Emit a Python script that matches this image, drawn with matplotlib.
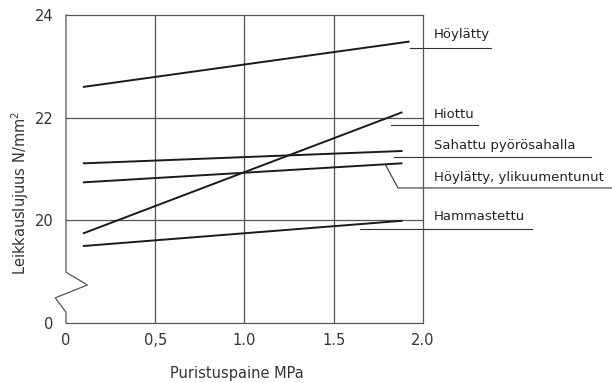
import matplotlib.pyplot as plt

# puristuspaine (MPa) alku- ja loppupisteet
x_alku = 0.1
x_loppu = [1.92, 1.88, 1.88, 1.88, 1.88]

nimet = ["Höylätty", "Hiottu", "Sahattu pyörösahalla",
         "Höylätty, ylikuumentunut", "Hammastettu"]
y_alku = [22.60, 19.75, 21.11, 20.74, 19.50]
y_loppu = [23.48, 22.10, 21.35, 21.11, 19.99]

# akselin katkon vuoksi 18 piirretään nollana
y_ticks = [18, 20, 22, 24]
y_tick_labels = ["0", "20", "22", "24"]
x_ticks = [0, 0.5, 1.0, 1.5, 2.0]
x_tick_labels = ["0", "0,5", "1.0", "1.5", "2.0"]

# nimien paikat ja viittausviivat
nimi_y = [23.61, 22.07, 21.45, 20.84, 20.08]
viivat = [
    ([1.93, 2.38], [23.36, 23.36]),
    ([1.82, 2.31], [21.86, 21.86]),
    ([1.84, 2.94], [21.23, 21.23]),
    ([1.79, 1.86, 3.06], [21.08, 20.63, 20.63]),
    ([1.65, 2.61], [19.83, 19.83]),
]

fig = plt.figure(figsize=(6.12, 3.83), dpi=100)
ax = fig.add_axes([0.1078, 0.1567, 0.5833, 0.8042])

ax.set_xlim(0, 2.0)
ax.set_ylim(18, 24)

harmaa = "#555555"
for gx in [0.5, 1.0, 1.5]:
    ax.axvline(gx, color=harmaa, lw=0.9)
for gy in [20, 22]:
    ax.axhline(gy, color=harmaa, lw=0.9)

for i in range(len(nimet)):
    ax.plot([x_alku, x_loppu[i]], [y_alku[i], y_loppu[i]], color="#1a1a1a", lw=1.4)
    vx, vy = viivat[i]
    ax.plot(vx, vy, color="#333333", lw=0.8, clip_on=False)
    ax.text(2.06, nimi_y[i], nimet[i], fontsize=9.5, color="#222222",
            va="center", ha="left", clip_on=False)

# vasen akseli katkoviivalla
ax.spines["left"].set_visible(False)
for s in ["top", "right", "bottom"]:
    ax.spines[s].set_color(harmaa)
    ax.spines[s].set_linewidth(0.9)
ax.plot([0, 0, 0.12, -0.06, 0, 0], [24, 18.99, 18.74, 18.49, 18.21, 18],
        color=harmaa, lw=0.9, clip_on=False)

ax.set_xticks(x_ticks)
ax.set_xticklabels(x_tick_labels)
ax.set_yticks(y_ticks)
ax.set_yticklabels(y_tick_labels)
ax.tick_params(length=0, labelsize=10.5, labelcolor="#333333")
ax.tick_params(axis="y", pad=9)
ax.tick_params(axis="x", pad=7)

fig.text(0.387, 0.026, "Puristuspaine MPa", fontsize=10.5, color="#333333",
         ha="center", va="center")
fig.text(0.033, 0.495, "Leikkauslujuus N/mm$^2$", fontsize=10.5, color="#333333",
         ha="center", va="center", rotation=90)

fig.savefig("out.png", dpi=100)
